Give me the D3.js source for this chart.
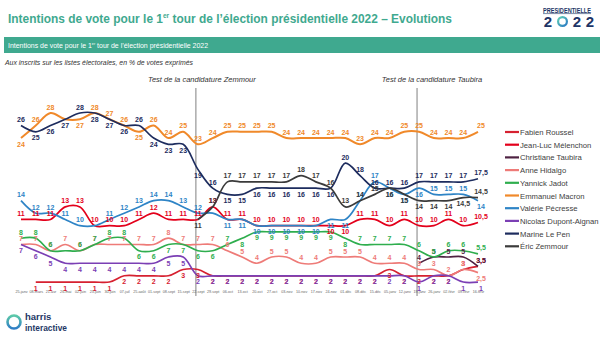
<!DOCTYPE html>
<html lang="fr">
<head>
<meta charset="UTF-8">
<script src="https://d3js.org/d3.v7.min.js"></script>
<style>
body { margin: 0; background: #fff; }
svg { display: block; font-family: "Liberation Sans", Arial, sans-serif; }
.lbl { font-size: 7px; font-weight: bold; text-anchor: middle; }
.axis text { font-size: 3.7px; fill: #666; }
.legend text { font-size: 7.7px; fill: #404040; }
</style>
</head>
<body>
<svg width="604" height="338"></svg>
<script>
// vagues d'enquête
const dates = ["25-janv","08-mars","21-avr","26-mai","02-juin","23-juin","30-juin","07-juil",
  "25-août","01-sept","08-sept","15-sept","22-sept","29-sept","06-oct","13-oct","20-oct",
  "27-oct","03-nov","10-nov","17-nov","24-nov","01-déc","08-déc","15-déc","05-janv",
  "12-janv","19-janv","26-janv","02-févr","09-févr","16-févr"];

const _ = null;
const roussel   = [_,1,1,1,1,1,1,2,2,2,2,3,3,2,2,2,2,2,2,2,2,2,2,2,2,3,2,2,2,2,3,3.5];
const melenchon = [11,11,11,13,13,10,10,10,11,12,11,11,11,13,11,11,10,10,10,10,10,10,10,11,11,10,11,10,10,11,10,10.5];
const taubira   = [_,_,_,_,_,_,_,_,_,_,_,_,_,_,_,_,_,_,_,_,_,_,_,_,_,_,_,4,5,5,5,3.5];
const hidalgo   = [7,7,6,7,6,7,7,7,7,7,8,7,7,7,6,5,4,5,5,4,4,5,5,5,4,4,4,3,3,2,3,2.5];
const jadot     = [8,8,6,6,6,7,8,8,6,6,7,7,6,6,7,8,9,9,9,9,9,9,8,7,7,7,7,6,5,6,6,5.5];
const macron    = [24,26,28,27,27,28,27,26,25,26,24,25,23,24,25,25,25,25,24,24,24,24,24,23,24,24,25,25,24,24,24,25];
const pecresse  = [14,12,12,11,10,10,11,12,13,14,14,13,12,12,11,11,10,10,10,10,10,11,11,14,17,16,15,16,15,15,15,14];
const dupont    = [7,6,5,4,4,4,4,4,4,4,5,5,2,2,2,2,2,2,2,2,2,2,2,2,2,2,2,1,2,2,1,1];
const lepen     = [26,25,26,27,28,28,27,26,26,24,23,23,19,16,15,15,16,16,16,16,16,16,20,18,16,16,16,17,17,17,17,17.5];
const zemmour   = [_,_,_,_,_,_,_,_,_,_,_,_,11,13,17,17,17,17,17,18,17,16,13,14,15,16,15,14,14,14,14.5,14.5];

// a = étiquette au-dessus, b = en dessous, . = pas d'étiquette
const series = [
  {name: "Fabien Roussel",        color: "#d62130", v: roussel,   side: ".bbbbbbbbbbbbbbbbbbbbbbbbbbbbbaa"},
  {name: "Jean-Luc Mélenchon",    color: "#e3001b", v: melenchon, side: "aaaaaaaaaaaaaaaaaaaaabbaaaaaaaaa"},
  {name: "Christiane Taubira",    color: "#4e2242", v: taubira,   side: "aaaaaaaaaaaaaaaaaaaaaaaaaaaaaaaa"},
  {name: "Anne Hidalgo",          color: "#ee7b78", v: hidalgo,   side: "aaaaaaaaaaaaaaaaaaaaaaaaaaaaaaab"},
  {name: "Yannick Jadot",         color: "#2fae4e", v: jadot,     side: "aaa.aaaabbbbbbabbbbbbbbaaaaaaaaa"},
  {name: "Emmanuel Macron",       color: "#f0892a", v: macron,    side: "baa.baaabaaaaaaaaaaaaaaaaaaaaaaa"},
  {name: "Valérie Pécresse",      color: "#2e84c6", v: pecresse,  side: "aaaaa.aaaaaaa.bbbbbbbbbaabbbaaab"},
  {name: "Nicolas Dupont-Aignan", color: "#7b3fb4", v: dupont,    side: "bbbbbbbbbbbbbbbbbbbbbbbbbbbbbbbb"},
  {name: "Marine Le Pen",         color: "#1d2c5e", v: lepen,     side: "abbbabbbabbbbabbbbbbbbaaaaaaaaaa"},
  {name: "Éric Zemmour",          color: "#3b3b3b", v: zemmour,   side: "............baaaaaaaaaaaabbbbbba"}
];

const svg = d3.select("svg");
const teal = "#3fa98f", navy = "#1d3566";

// titre
const title = svg.append("text").attr("x", 8).attr("y", 23)
  .attr("fill", teal).attr("font-size", 13.5).attr("font-weight", "bold")
  .attr("textLength", 444).attr("lengthAdjust", "spacingAndGlyphs");
title.append("tspan").text("Intentions de vote pour le 1");
title.append("tspan").attr("dy", -5).attr("font-size", 7.5).text("er");
title.append("tspan").attr("dy", 5).text(" tour de l’élection présidentielle 2022 – Evolutions");

// logo présidentielle
const defs = svg.append("defs");
const grad = defs.append("linearGradient").attr("id", "ring").attr("x1", 0).attr("y1", 0).attr("x2", 1).attr("y2", 1);
grad.append("stop").attr("offset", "0%").attr("stop-color", "#5fd0b4");
grad.append("stop").attr("offset", "100%").attr("stop-color", "#2a78c4");
svg.append("text").attr("x", 567).attr("y", 12.5).attr("text-anchor", "middle")
  .attr("font-size", 6.6).attr("font-weight", "bold").attr("fill", navy)
  .attr("textLength", 48).attr("lengthAdjust", "spacingAndGlyphs").text("PRESIDENTIELLE");
svg.append("line").attr("x1", 543).attr("x2", 591).attr("y1", 13.6).attr("y2", 13.6)
  .attr("stroke", navy).attr("stroke-width", 0.6);
[548, 577, 590].forEach(cx => svg.append("text").attr("x", cx).attr("y", 27)
  .attr("text-anchor", "middle").attr("font-size", 15).attr("font-weight", "bold")
  .attr("fill", navy).text("2"));
svg.append("circle").attr("cx", 562.5).attr("cy", 21.5).attr("r", 4.4)
  .attr("fill", "none").attr("stroke", "url(#ring)").attr("stroke-width", 2.2);

// bandeau
svg.append("rect").attr("x", 4).attr("y", 37).attr("width", 596).attr("height", 16).attr("fill", teal);
const band = svg.append("text").attr("x", 8).attr("y", 48).attr("fill", "#fff")
  .attr("font-size", 7.5).attr("textLength", 200).attr("lengthAdjust", "spacingAndGlyphs");
band.append("tspan").text("Intentions de vote pour le 1");
band.append("tspan").attr("dy", -3).attr("font-size", 4).text("er");
band.append("tspan").attr("dy", 3).text(" tour de l’élection présidentielle 2022");

svg.append("text").attr("x", 5).attr("y", 65).attr("font-size", 7.4)
  .attr("font-style", "italic").attr("fill", "#333")
  .attr("textLength", 188).attr("lengthAdjust", "spacingAndGlyphs")
  .text("Aux inscrits sur les listes électorales, en % de votes exprimés");

// échelles
const x = d3.scalePoint().domain(d3.range(dates.length)).range([21, 478]);
const y = d3.scaleLinear().domain([0, 30]).range([288.3, 100.5]);

// tests de candidature
[[12, "Test de la candidature Zemmour", 4], [27, "Test de la candidature Taubira", 13]].forEach(([i, t, off]) => {
  svg.append("line").attr("x1", x(i) - 2).attr("x2", x(i) - 2).attr("y1", 88).attr("y2", 296)
    .attr("stroke", "#808080").attr("stroke-width", 1);
  svg.append("text").attr("x", x(i) + off).attr("y", 82).attr("text-anchor", "middle")
    .attr("font-size", 7.5).attr("font-style", "italic").attr("fill", "#333").text(t);
});

// axe des dates
const axis = svg.append("g").attr("class", "axis").attr("transform", "translate(0,289)")
  .call(d3.axisBottom(x).tickSize(0).tickPadding(1.5).tickFormat(i => dates[i]));
axis.select(".domain").remove();

// courbes
const line = d3.line()
  .defined(d => d != null)
  .x((d, i) => x(i))
  .y(d => y(d))
  .curve(d3.curveCatmullRom.alpha(0.5));

const g = svg.append("g");
series.forEach(s => {
  g.append("path").attr("d", line(s.v)).attr("fill", "none")
    .attr("stroke", s.color).attr("stroke-width", s.name === "Emmanuel Macron" ? 2 : 1.7);
});

// étiquettes de valeurs
const fmt = v => String(v).replace(".", ",");
series.forEach(s => {
  g.selectAll(null)
    .data(s.v.map((v, i) => ({v, i})).filter(d => d.v != null && s.side[d.i] !== "."))
    .join("text")
    .attr("class", "lbl")
    .attr("fill", s.color)
    .attr("x", d => x(d.i) + (d.i === dates.length - 1 ? 3 : 0))
    .attr("y", d => y(d.v) + (s.side[d.i] === "a" ? -3.5 : 8.5))
    .text(d => fmt(d.v));
});

// légende
const leg = svg.append("g").attr("class", "legend");
series.forEach((s, k) => {
  const yy = 132 + k * 12.7;
  leg.append("line").attr("x1", 505).attr("x2", 519).attr("y1", yy).attr("y2", yy)
    .attr("stroke", s.color).attr("stroke-width", 2.2);
  leg.append("text").attr("x", 520).attr("y", yy + 3).text(s.name);
});

// logo harris interactive
const hg = defs.append("linearGradient").attr("id", "hring").attr("x1", 0).attr("y1", 0).attr("x2", 0).attr("y2", 1);
hg.append("stop").attr("offset", "0%").attr("stop-color", "#5cc9a8");
hg.append("stop").attr("offset", "100%").attr("stop-color", "#2f7ec6");
svg.append("circle").attr("cx", 14).attr("cy", 322).attr("r", 6.5)
  .attr("fill", "none").attr("stroke", "url(#hring)").attr("stroke-width", 2.6);
svg.append("text").attr("x", 25).attr("y", 320).attr("font-size", 9.5).attr("font-weight", "bold")
  .attr("fill", "#1e3765").text("harris");
svg.append("text").attr("x", 25).attr("y", 331).attr("font-size", 9.5).attr("font-weight", "bold")
  .attr("fill", "#1e3765").attr("textLength", 42).attr("lengthAdjust", "spacingAndGlyphs").text("interactive");
</script>
</body>
</html>
